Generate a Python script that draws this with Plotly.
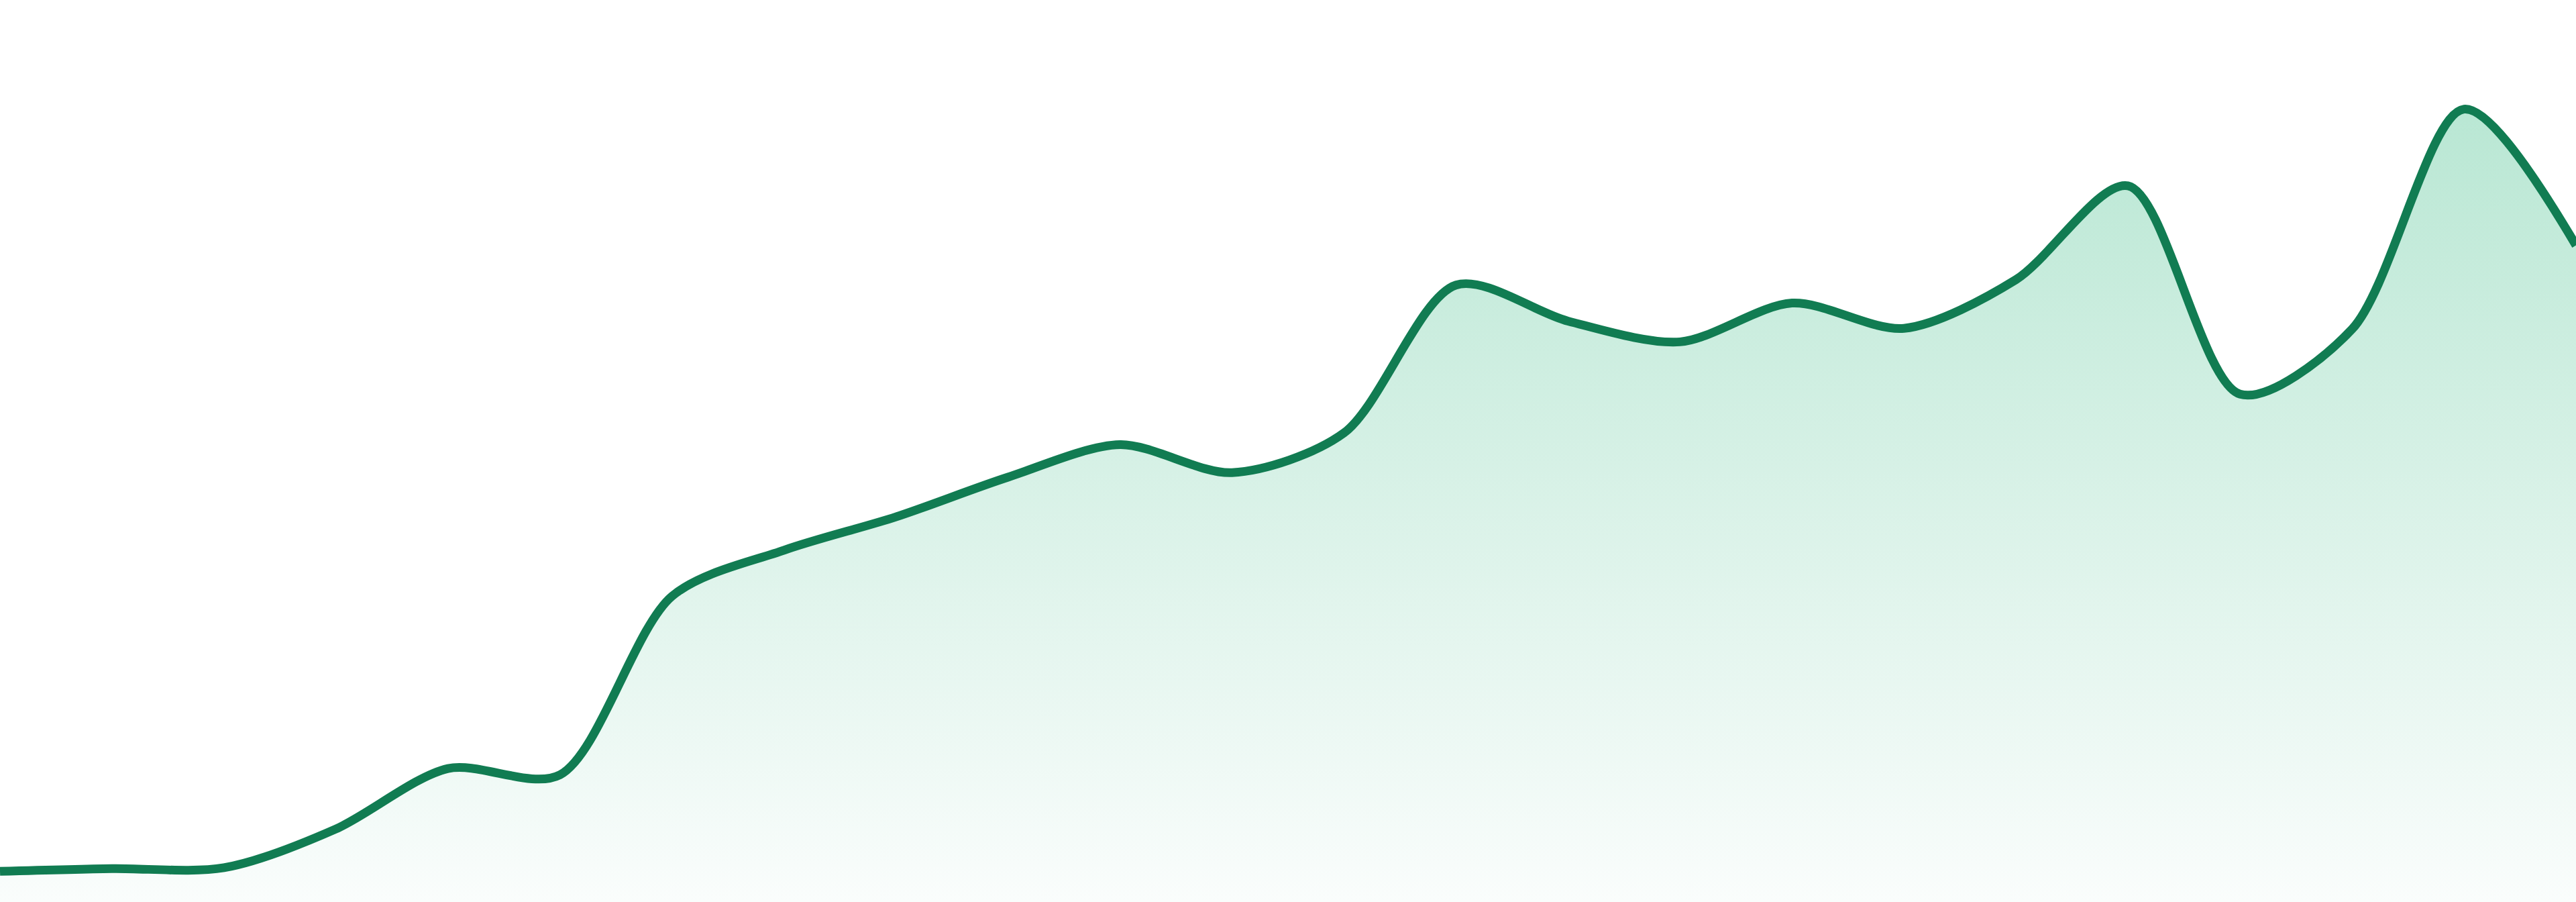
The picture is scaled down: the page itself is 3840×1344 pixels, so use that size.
import plotly.graph_objects as go

# 24 evenly spaced samples
days = list(range(24))
values = [3.4, 3.7, 3.8, 8.1, 14.8, 14.1, 33.9, 39.0, 42.7, 47.1, 50.7, 47.6,
          52.0, 68.4, 64.4, 62.1, 66.4, 63.6, 69.0, 79.4, 56.3, 63.5, 87.9, 72.8]

line_color = "#117c52"

fig = go.Figure()

fig.add_trace(go.Scatter(
    x=days,
    y=values,
    mode="lines",
    line=dict(color=line_color, width=13, shape="spline", smoothing=0.85),
    fill="tozeroy",
    fillgradient=dict(
        type="vertical",
        start=0,
        stop=100,
        colorscale=[[0, "rgb(250,253,252)"], [1, "rgb(176,228,206)"]],
    ),
    hoverinfo="skip",
    showlegend=False,
))

fig.update_layout(
    width=3840,
    height=1344,
    margin=dict(l=0, r=0, t=0, b=0),
    paper_bgcolor="white",
    plot_bgcolor="white",
    xaxis=dict(visible=False, range=[0, 23], fixedrange=True),
    yaxis=dict(visible=False, range=[0, 100], fixedrange=True),
)

# drop the default body margin so the chart fills the window edge to edge
fig.write_html(
    "out.html",
    config={"displayModeBar": False},
    post_script="document.body.style.margin='0';document.body.style.overflow='hidden';",
)
